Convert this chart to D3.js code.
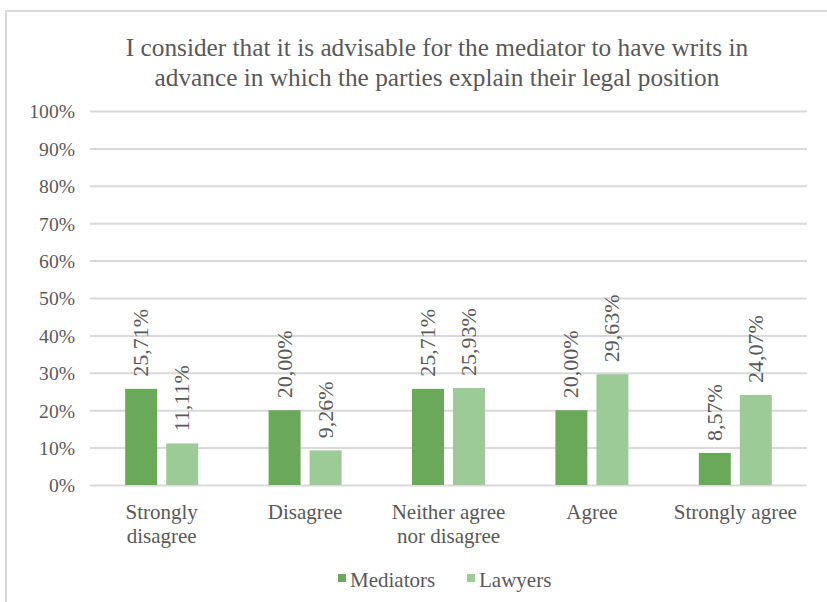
<!DOCTYPE html>
<html>
<head>
<meta charset="utf-8">
<script src="https://cdn.jsdelivr.net/npm/d3@7"></script>
<style>
  html, body { margin: 0; padding: 0; background: #fff; }
  svg { display: block; }
  text { font-family: "Liberation Serif", "Times New Roman", serif; fill: #595959; }
</style>
</head>
<body>
<svg id="chart" width="827" height="602"></svg>
<script>
// Survey responses (share of respondents)
const categories = ["Strongly disagree", "Disagree", "Neither agree nor disagree", "Agree", "Strongly agree"];
const categoryLines = [["Strongly", "disagree"], ["Disagree"], ["Neither agree", "nor disagree"], ["Agree"], ["Strongly agree"]];
const seriesNames = ["Mediators", "Lawyers"];
const mediators = [0.2571, 0.2000, 0.2571, 0.2000, 0.0857];
const lawyers = [0.1111, 0.0926, 0.2593, 0.2963, 0.2407];
const yTicks = [0, 0.1, 0.2, 0.3, 0.4, 0.5, 0.6, 0.7, 0.8, 0.9, 1.0];
const titleLines = [
  "I consider that it is advisable for the mediator to have writs in",
  "advance in which the parties explain their legal position"
];
const colors = ["#6aa85a", "#9ccb98"];

const svg = d3.select("#chart");
const plot = { left: 90, right: 807, top: 111, bottom: 485 };

// Chart frame
svg.append("rect")
  .attr("x", 6).attr("y", 11)
  .attr("width", 900).attr("height", 700)
  .attr("fill", "none").attr("stroke", "#d9d9d9").attr("stroke-width", 2);

// Title
const title = svg.append("text")
  .attr("text-anchor", "middle")
  .attr("font-size", 25.3);
titleLines.forEach((line, i) => {
  title.append("tspan").attr("x", 437).attr("y", 56 + i * 30).text(line);
});

const x0 = d3.scaleBand().domain(categories).range([plot.left, plot.right]).padding(0);
const groupWidth = 73;
const x1 = d3.scaleBand().domain(seriesNames).range([-groupWidth / 2, groupWidth / 2]).paddingInner(0.22);
const y = d3.scaleLinear().domain([0, 1]).range([plot.bottom, plot.top]);

// Gridlines and y axis labels
const yAxis = d3.axisLeft(y)
  .tickValues(yTicks)
  .tickFormat(d3.format(".0%"))
  .tickSize(plot.left - plot.right)
  .tickPadding(15);
const yg = svg.append("g").attr("transform", `translate(${plot.left},0)`).call(yAxis);
yg.select(".domain").remove();
yg.selectAll(".tick line").attr("stroke", "#d9d9d9").attr("stroke-width", 2).attr("x1", 0).attr("x2", plot.right - plot.left);
yg.selectAll(".tick text")
  .attr("font-family", "Liberation Serif, serif")
  .attr("font-size", 19.6)
  .attr("fill", "#595959")
  .attr("dy", "0.35em");

// Bars
const rows = categories.map((c, i) => ({ cat: c, values: [mediators[i], lawyers[i]] }));
const groups = svg.append("g").selectAll("g").data(rows).join("g")
  .attr("transform", d => `translate(${x0(d.cat) + x0.bandwidth() / 2},0)`);

groups.selectAll("rect")
  .data(d => d.values.map((v, k) => ({ name: seriesNames[k], v, k })))
  .join("rect")
  .attr("x", d => x1(d.name))
  .attr("width", x1.bandwidth())
  .attr("y", d => y(d.v))
  .attr("height", d => y(0) - y(d.v))
  .attr("fill", d => colors[d.k]);

// Rotated value labels
const fmt = v => (v * 100).toFixed(2).replace(".", ",") + "%";
groups.selectAll("text.val")
  .data(d => d.values.map((v, k) => ({ name: seriesNames[k], v, k })))
  .join("text")
  .attr("class", "val")
  .attr("font-size", 22)
  .attr("transform", d => `translate(${x1(d.name) + x1.bandwidth() / 2 + 7},${y(d.v) - 12}) rotate(-90)`)
  .text(d => fmt(d.v));

// Category labels
const cats = svg.append("g").selectAll("text").data(categories).join("text")
  .attr("text-anchor", "middle")
  .attr("font-size", 21);
cats.each(function (c, i) {
  const t = d3.select(this);
  categoryLines[i].forEach((line, j) => {
    t.append("tspan")
      .attr("x", x0(c) + x0.bandwidth() / 2)
      .attr("y", 519 + j * 24)
      .text(line);
  });
});

// Legend
const legend = svg.append("g");
const legendItems = [{ name: seriesNames[0], x: 338 }, { name: seriesNames[1], x: 467 }];
legendItems.forEach((it, k) => {
  legend.append("rect").attr("x", it.x).attr("y", 574).attr("width", 8).attr("height", 8).attr("fill", colors[k]);
  legend.append("text").attr("x", it.x + 12).attr("y", 587).attr("font-size", 21).text(it.name);
});
</script>
</body>
</html>
